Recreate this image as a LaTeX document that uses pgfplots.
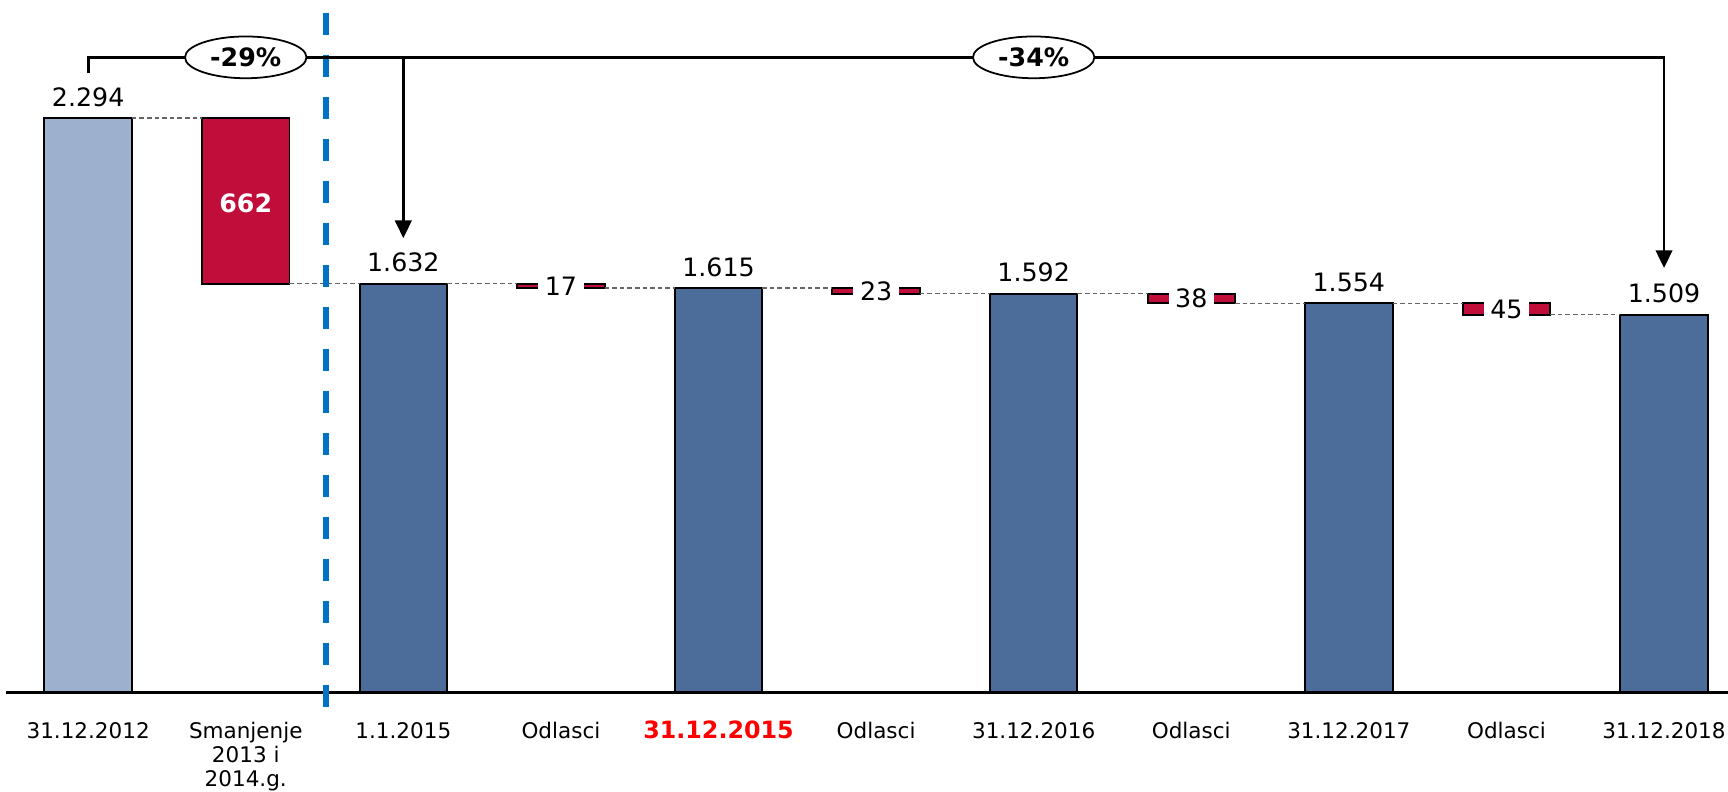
\documentclass[border=0pt]{standalone}
\usepackage{pgfplots}
\pgfplotsset{compat=1.18}
\usepackage{pgfplotstable}
\usetikzlibrary{shapes.geometric,arrows.meta}
\usepackage{fontspec}
\setmainfont{DejaVu Sans}
\definecolor{lightbar}{RGB}{157,176,206}
\definecolor{darkbar}{RGB}{76,108,153}
\definecolor{redbar}{RGB}{192,13,58}
\definecolor{blueline}{RGB}{0,114,198}
\definecolor{conn}{RGB}{100,100,100}
\newcommand{\vallab}{\fontsize{10}{12}\selectfont}
\newcommand{\ticklab}{\fontsize{8.5}{9.6}\selectfont}

\pgfplotstableread{
x base light dark red
0 0 2294 0 0
1 1632 0 0 662
2 0 0 1632 0
3 1615 0 0 17
4 0 0 1615 0
5 1592 0 0 23
6 0 0 1592 0
7 1554 0 0 38
8 0 0 1554 0
9 1509 0 0 45
10 0 0 1509 0
}\bars

\pgfplotstableread{
x y lab
0 2294 2.294
2 1632 1.632
4 1615 1.615
6 1592 1.592
8 1554 1.554
10 1509 1.509
}\totals

\pgfplotstableread{
x y lab
3 1623.5 17
5 1603.5 23
7 1573 38
9 1531.5 45
}\deltas

\pgfplotstableread{
x y lab
1 1963 662
}\bigdelta

\pgfplotsset{common/.style={
  x=2.1888cm, y=0.003476cm,
  xmin=-0.5594, xmax=10.406, ymin=-396, ymax=2765,
  at={(0,0)}, anchor=south west, clip=false}}

\begin{document}
\begin{tikzpicture}
\begin{axis}[common, name=A, hide axis, ybar stacked, bar width=0.555]
\addplot[draw=none, fill=none] table[x=x,y=base]{\bars};
\addplot[fill=lightbar, draw=black, line width=0.75pt] table[x=x,y=light]{\bars};
\addplot[fill=darkbar, draw=black, line width=0.75pt] table[x=x,y=dark]{\bars};
\addplot[fill=redbar, draw=black, line width=0.75pt] table[x=x,y=red]{\bars};
\end{axis}

\begin{axis}[common, axis x line=middle, axis y line=none,
  x axis line style={-, line width=0.9pt, shorten <=0.086cm},
  xtick={0,...,10}, major tick length=0pt, ytick=\empty,
  xticklabels={31.12.2012, {\begin{tabular}[t]{@{}c@{}}Smanjenje\\2013 i\\2014.g.\end{tabular}}, 1.1.2015, Odlasci,
    {\textcolor{red}{\bfseries\fontsize{9.4}{11}\selectfont 31.12.2015}}, Odlasci,
    31.12.2016, Odlasci, 31.12.2017, Odlasci, 31.12.2018},
  xticklabel style={font=\ticklab, anchor=base, yshift=-18.1pt}]

% connectors
\addplot[conn, line width=0.45pt, dash pattern=on 1.8pt off 1.2pt, mark=none, unbounded coords=jump] coordinates {
 (0.2775,2294) (0.7225,2294) (nan,nan)
 (1.2775,1632) (1.7225,1632) (nan,nan)
 (2.2775,1632) (2.7225,1632) (nan,nan)
 (3.2775,1615) (3.7225,1615) (nan,nan)
 (4.2775,1615) (4.7225,1615) (nan,nan)
 (5.2775,1592) (5.7225,1592) (nan,nan)
 (6.2775,1592) (6.7225,1592) (nan,nan)
 (7.2775,1554) (7.7225,1554) (nan,nan)
 (8.2775,1554) (8.7225,1554) (nan,nan)
 (9.2775,1509) (9.7225,1509)
};

% blue dashed separator
\draw[blueline, line width=2.1pt, dash pattern=on 8.7pt off 7.9pt] (axis cs:1.509,2715) -- (axis cs:1.509,-64);

% bracket with arrows
\draw[line width=1.1pt, miter limit=10, -{Triangle[width=6.5pt,length=7pt]}]
  (axis cs:0,2473) -- (axis cs:0,2536) -- (axis cs:10,2536) -- (axis cs:10,1695);
\draw[line width=1.1pt, -{Triangle[width=6.5pt,length=7pt]}]
  (axis cs:2,2536) -- (axis cs:2,1814);
\node[ellipse, draw, fill=white, line width=0.7pt, minimum width=48pt, minimum height=16.5pt, inner sep=0pt,
  font=\bfseries\fontsize{10}{12}\selectfont] at (axis cs:1,2536) {-29\%};
\node[ellipse, draw, fill=white, line width=0.7pt, minimum width=48pt, minimum height=16.5pt, inner sep=0pt,
  font=\bfseries\fontsize{10}{12}\selectfont] at (axis cs:6,2536) {-34\%};

% value labels
\addplot[draw=none, mark=none, nodes near coords, point meta=explicit symbolic,
  nodes near coords style={font=\vallab, inner sep=0pt, text depth=0pt, yshift=4.5pt}]
  table[x=x, y=y, meta=lab]{\totals};
\addplot[draw=none, mark=none, nodes near coords, point meta=explicit symbolic,
  nodes near coords style={font=\vallab, fill=white, inner xsep=2.6pt, inner ysep=0pt, text depth=0pt, yshift=-3.9pt}]
  table[x=x, y=y, meta=lab]{\deltas};
\addplot[draw=none, mark=none, nodes near coords, point meta=explicit symbolic,
  nodes near coords style={font=\bfseries\fontsize{10}{12}\selectfont, text=white, inner sep=0pt, text depth=0pt, yshift=-4.8pt}]
  table[x=x, y=y, meta=lab]{\bigdelta};
\end{axis}
\pgfresetboundingbox
\useasboundingbox (A.south west) rectangle (A.north east);
\end{tikzpicture}
\end{document}
